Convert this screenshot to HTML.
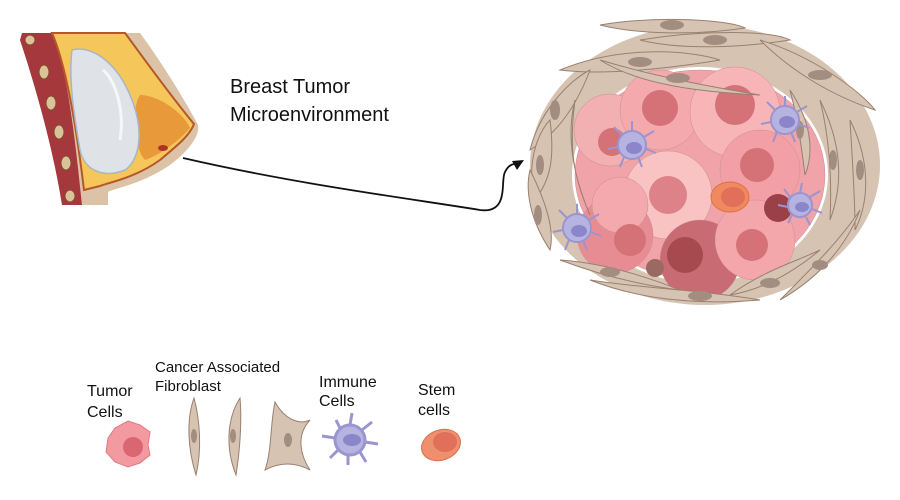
<!DOCTYPE html>
<html><head><meta charset="utf-8"><style>
html,body{margin:0;padding:0;background:#fff;}
svg{display:block;}
text{font-family:"Liberation Sans",sans-serif;fill:#111;}
</style></head><body>
<svg width="900" height="500" viewBox="0 0 900 500" xmlns="http://www.w3.org/2000/svg">
<!-- Breast -->
<path d="M38,33 L140,33 C160,60 185,100 198,125 C200,135 190,150 170,165 C140,185 115,188 108,192 L108,205 L62,205 C55,160 40,100 20,40 Z" fill="#dcc2a6"/>
<path d="M22,33 L52,33 C68,70 75,140 82,205 L62,205 C55,160 40,100 20,40 Z" fill="#a5383c"/>
<g fill="#d9c49a" stroke="#8a4a30" stroke-width="1"><ellipse cx="30" cy="40" rx="5" ry="5"/><ellipse cx="44" cy="72" rx="5" ry="7"/><ellipse cx="51" cy="103" rx="5" ry="7"/><ellipse cx="59" cy="132" rx="5" ry="7"/><ellipse cx="66" cy="163" rx="5" ry="7"/><ellipse cx="70" cy="196" rx="5" ry="6"/></g>
<path d="M52,33 L125,33 C145,60 170,95 194,124 C190,135 178,145 160,160 C135,178 110,182 100,186 L84,190 C78,140 68,70 52,33 Z" fill="#f5c65a" stroke="#b4582a" stroke-width="2"/>
<path d="M140,95 C160,95 185,115 190,128 C180,140 160,155 145,160 C135,150 130,110 140,95 Z" fill="#e89a3a"/>
<path d="M72,50 C90,45 115,60 130,95 C145,130 140,160 125,170 C105,178 85,172 80,150 C75,120 68,80 72,50 Z" fill="#dfe3e8" stroke="#a7b6c8" stroke-width="1.5"/>
<path d="M103,70 C115,80 125,110 120,140" fill="none" stroke="#fff" stroke-width="3" opacity=".7"/>
<ellipse cx="163" cy="148" rx="5" ry="3" fill="#b0302a"/>
<!-- Connector -->
<path d="M183,158 C300,185 420,200 480,210 C510,214 500,180 505,172 C510,162 515,165 521,162" fill="none" stroke="#111" stroke-width="1.8"/>
<path d="M524,160 L512,161 L517,170 Z" fill="#111"/>
<text x="230" y="93" font-size="20">Breast Tumor</text>
<text x="230" y="121" font-size="20">Microenvironment</text>
<!-- Tumor cluster -->
<ellipse cx="705" cy="165" rx="175" ry="140" fill="#d6c3b2"/>
<ellipse cx="700" cy="175" rx="128" ry="108" fill="#fff"/>
<g stroke="#c98e92" stroke-width=".5">
<ellipse cx="700" cy="175" rx="125" ry="105" fill="#f0a3a8"/>
<circle cx="610" cy="130" r="36" fill="#f2b0b3"/>
<circle cx="660" cy="110" r="40" fill="#f4a9ad"/>
<circle cx="735" cy="112" r="45" fill="#f7b5b8"/>
<circle cx="760" cy="170" r="40" fill="#f29fa6"/>
<circle cx="668" cy="195" r="44" fill="#f9c3c4"/>
<circle cx="615" cy="235" r="38" fill="#e88c93"/>
<circle cx="700" cy="260" r="40" fill="#c96b73"/>
<circle cx="755" cy="240" r="40" fill="#f4a7ab"/>
<circle cx="620" cy="205" r="28" fill="#f3a9ad"/>
</g>
<g fill="#d47278"><circle cx="660" cy="108" r="18"/><circle cx="735" cy="105" r="20"/><circle cx="757" cy="165" r="17"/><circle cx="668" cy="195" r="19" fill="#dc8288"/><circle cx="612" cy="142" r="14"/><circle cx="630" cy="240" r="16"/><circle cx="685" cy="255" r="18" fill="#a84950"/><circle cx="752" cy="245" r="16"/><circle cx="778" cy="208" r="14" fill="#9c4048"/></g>
<ellipse cx="730" cy="197" rx="19" ry="15" fill="#f0895f" stroke="#e07040"/>
<ellipse cx="733" cy="197" rx="12" ry="10" fill="#e0705a"/>
<circle cx="655" cy="268" r="9" fill="#9a6a62"/>
<!-- fibroblast ring -->
<g fill="#d6c3b2" stroke="#9a8070" stroke-width="1">
<path d="M600,25 C660,15 730,20 745,28 C700,35 640,35 600,25Z"/>
<path d="M640,40 C700,30 770,30 790,40 C740,48 680,50 640,40Z"/>
<path d="M560,70 C620,45 690,50 720,60 C660,70 600,75 560,70Z"/>
<path d="M760,40 C810,55 860,90 875,110 C830,95 790,70 760,40Z"/>
<path d="M530,150 C540,110 570,80 590,70 C575,110 555,135 530,150Z"/>
<path d="M535,200 C525,160 540,130 550,120 C555,160 550,180 535,200Z"/>
<path d="M550,250 C530,220 525,190 530,170 C545,200 555,230 550,250Z"/>
<path d="M590,280 C640,300 700,305 760,300 C700,290 640,288 590,280Z"/>
<path d="M560,260 C600,275 640,285 680,290 C630,270 590,262 560,260Z"/>
<path d="M850,120 C870,160 870,200 855,230 C855,195 852,155 850,120Z"/>
<path d="M820,100 C840,140 845,180 830,220 C832,180 830,140 820,100Z"/>
<path d="M860,210 C845,250 815,280 780,300 C815,265 840,240 860,210Z"/>
<path d="M820,250 C790,275 760,290 730,295 C765,270 795,262 820,250Z"/>
<path d="M600,60 C650,75 700,85 760,95 C700,92 640,85 600,60Z"/>
<path d="M790,90 C810,120 815,150 805,175 C802,150 798,120 790,90Z"/>
<path d="M575,100 C570,140 570,170 590,215 C575,180 565,140 575,100Z"/>
</g>
<g fill="#a38d80"><ellipse cx="672" cy="25" rx="12" ry="5"/><ellipse cx="715" cy="40" rx="12" ry="5"/><ellipse cx="640" cy="62" rx="12" ry="5"/><ellipse cx="820" cy="75" rx="12" ry="5"/><ellipse cx="555" cy="110" rx="5" ry="10"/><ellipse cx="540" cy="165" rx="4" ry="10"/><ellipse cx="538" cy="215" rx="4" ry="10"/><ellipse cx="700" cy="296" rx="12" ry="5"/><ellipse cx="610" cy="272" rx="10" ry="5"/><ellipse cx="860" cy="170" rx="4" ry="10"/><ellipse cx="833" cy="160" rx="4" ry="10"/><ellipse cx="820" cy="265" rx="8" ry="5"/><ellipse cx="770" cy="283" rx="10" ry="5"/><ellipse cx="678" cy="78" rx="12" ry="5"/><ellipse cx="800" cy="130" rx="4" ry="9"/></g>
<!-- immune cells -->
<g fill="#b7b3e0" stroke="#9a95d0" stroke-width="2">
<g transform="translate(632,145)"><circle r="14"/><path d="M0,-14L0,-24M12,-8L22,-14M14,4L24,8M6,12L10,22M-8,12L-12,22M-14,2L-24,4M-10,-10L-18,-18" fill="none"/></g>
<g transform="translate(785,120)"><circle r="14"/><path d="M0,-14L0,-24M12,-8L22,-14M14,4L24,8M6,12L10,22M-8,12L-12,22M-14,2L-24,4M-10,-10L-18,-18" fill="none"/></g>
<g transform="translate(800,205)"><circle r="12"/><path d="M0,-12L2,-22M10,-8L20,-14M12,4L22,8M6,12L10,20M-8,10L-12,18M-12,2L-22,0M-10,-8L-16,-16" fill="none"/></g>
<g transform="translate(577,228)"><circle r="14"/><path d="M0,-14L0,-24M12,-8L22,-14M14,4L24,8M6,12L10,22M-8,12L-12,22M-14,2L-24,4M-10,-10L-18,-18" fill="none"/></g>
</g>
<g fill="#8b86c9"><ellipse cx="634" cy="148" rx="8" ry="6"/><ellipse cx="787" cy="122" rx="8" ry="6"/><ellipse cx="802" cy="207" rx="7" ry="5"/><ellipse cx="579" cy="231" rx="8" ry="6"/></g>
<!-- Legend -->
<text x="87" y="396" font-size="16">Tumor</text><text x="87" y="417" font-size="16">Cells</text>
<text x="155" y="372" font-size="15">Cancer Associated</text><text x="155" y="391" font-size="15">Fibroblast</text>
<text x="319" y="387" font-size="16">Immune</text><text x="319" y="406" font-size="16">Cells</text>
<text x="418" y="395" font-size="16">Stem</text><text x="418" y="415" font-size="16">cells</text>
<path d="M128,421 L140,425 L150,432 L148,445 L150,455 L140,463 L128,467 L115,462 L106,452 L108,438 L115,428 Z" fill="#f39aa0" stroke="#e07a82"/>
<circle cx="133" cy="447" r="10" fill="#d96670"/>
<g fill="#d6c3b2" stroke="#9a8070" stroke-width="1">
<path d="M194,398 C200,420 202,450 196,475 C188,450 186,420 194,398Z"/>
<path d="M240,398 C242,420 240,450 236,475 C226,450 226,420 240,398Z"/>
<path d="M275,402 C285,420 300,425 310,420 C296,435 300,455 310,470 C295,462 280,462 265,470 C272,450 270,425 275,402Z"/>
</g>
<g fill="#a38d80"><ellipse cx="194" cy="436" rx="3" ry="7"/><ellipse cx="233" cy="436" rx="3" ry="7"/><ellipse cx="288" cy="440" rx="4" ry="7"/></g>
<g transform="translate(350,440)" fill="#b7b3e0" stroke="#9a95d0" stroke-width="3"><circle r="15"/><path d="M0,-15L2,-27M12,-10L22,-18M15,2L28,4M10,12L16,22M-2,15L-2,25M-12,10L-20,18M-15,-2L-28,-4M-10,-12L-14,-20" fill="none"/></g>
<ellipse cx="352" cy="440" rx="9" ry="6" fill="#8b86c9"/>
<ellipse cx="441" cy="445" rx="20" ry="15" fill="#ee8f6e" stroke="#d97050" transform="rotate(-20 441 445)"/>
<ellipse cx="445" cy="442" rx="12" ry="10" fill="#e0705a"/>
</svg>
</body></html>
